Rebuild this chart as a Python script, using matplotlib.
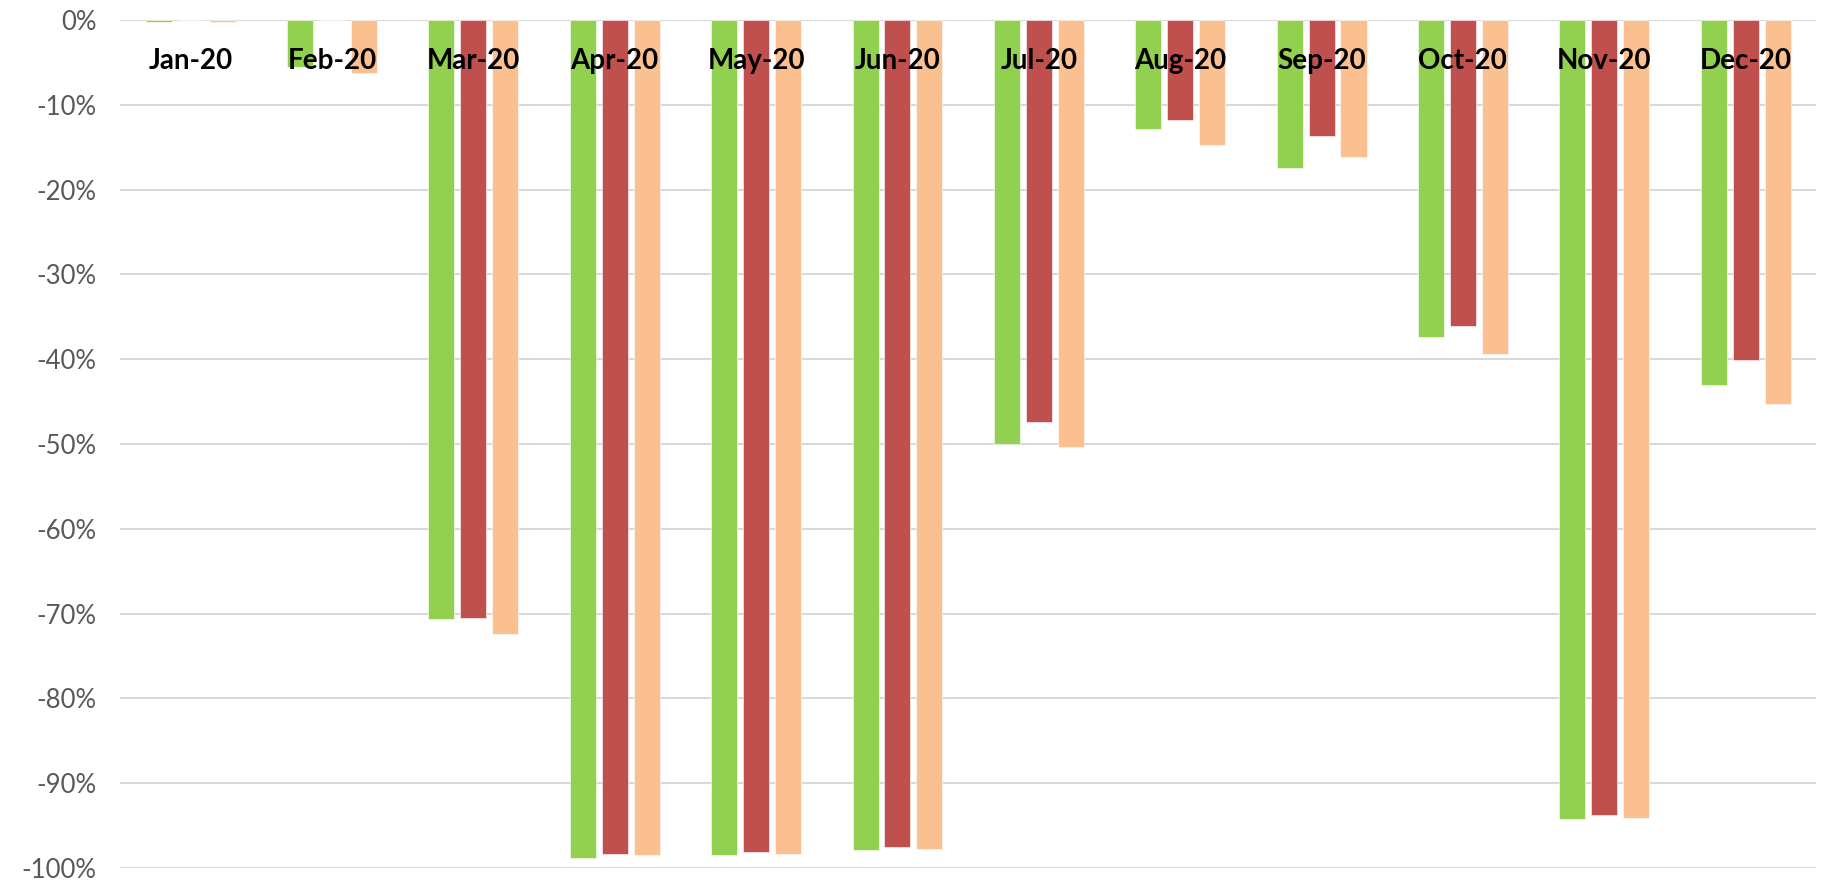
import numpy as np
import matplotlib.pyplot as plt
from matplotlib.ticker import FuncFormatter

months = ["Jan-20", "Feb-20", "Mar-20", "Apr-20", "May-20", "Jun-20",
          "Jul-20", "Aug-20", "Sep-20", "Oct-20", "Nov-20", "Dec-20"]

# monthly change vs. previous year, in percent
series_a = [-0.2, -5.5, -70.6, -98.8, -98.5, -97.9, -50.0, -12.9, -17.4, -37.4, -94.2, -43.0]
series_b = [0.0, 0.0, -70.5, -98.4, -98.1, -97.5, -47.4, -11.8, -13.7, -36.1, -93.8, -40.1]
series_c = [-0.2, -6.2, -72.4, -98.5, -98.4, -97.8, -50.3, -14.7, -16.2, -39.4, -94.1, -45.3]

colors = ["#92D050", "#C0504D", "#FAC090"]

fig = plt.figure(figsize=(18.26, 8.83), dpi=100)
ax = fig.add_axes([0.0657, 0.017, 0.929, 0.9604])

x = np.arange(len(months))
w = 0.184
step = 0.226
for i, (vals, c) in enumerate(zip([series_a, series_b, series_c], colors)):
    ax.bar(x + (i - 1) * step, vals, width=w, color=c,
           edgecolor="white", linewidth=0.4, zorder=2)

ax.set_xlim(-0.5, len(months) - 0.5)
ax.set_ylim(-100, 0)
ax.set_yticks(np.arange(-100, 1, 10))
ax.yaxis.set_major_formatter(FuncFormatter(lambda v, p: f"{v:.0f}%"))
ax.grid(axis="y", color="#D9D9D9", linewidth=1.5, zorder=0)
ax.set_xticks([])
for s in ax.spines.values():
    s.set_visible(False)
ax.tick_params(axis="y", length=0, pad=17, labelsize=18.5, labelcolor="#595959")
for lbl in ax.get_yticklabels():
    lbl.set_fontfamily("Lato")

# month names sit just under the zero line
for xi, m in zip(x, months):
    ax.text(xi, -4.8, m, ha="center", va="center", fontsize=20,
            fontweight="bold", family="Lato", color="black", zorder=3)

fig.savefig("out.png", dpi=100)
